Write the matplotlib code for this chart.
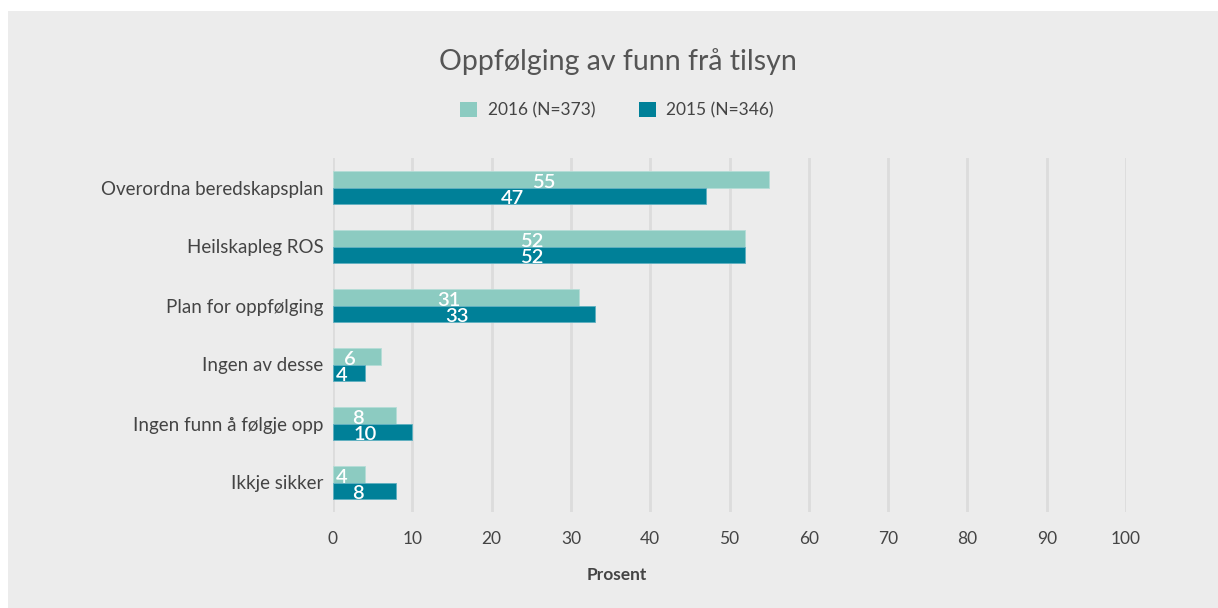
import numpy as np
import matplotlib.pyplot as plt
from matplotlib.patches import Rectangle, Patch

categories = ["Overordna beredskapsplan", "Heilskapleg ROS", "Plan for oppfølging",
              "Ingen av desse", "Ingen funn å følgje opp", "Ikkje sikker"]
values_2016 = [55, 52, 31, 6, 8, 4]
values_2015 = [47, 52, 33, 4, 10, 8]
series_names = ["2016 (N=373)", "2015 (N=346)"]
x_ticks = list(range(0, 101, 10))

light = "#8ccbc1"
dark = "#008098"
bg = "#ececec"
text_col = "#444444"

plt.rcParams['font.family'] = ['Lato', 'DejaVu Sans']

fig = plt.figure(figsize=(12.18, 6.08), dpi=100, facecolor="white")
fig.patches.append(Rectangle((8 / 1218, 0), 1, 1 - 11 / 608, transform=fig.transFigure,
                             facecolor=bg, edgecolor="none", zorder=-10))

ax = fig.add_axes([333 / 1218, 1 - 512 / 608, 793 / 1218, 354 / 608])
ax.set_facecolor(bg)
ax.patch.set_alpha(0)

y = np.arange(len(categories))
h = 0.28
b1 = ax.barh(y - h / 2, values_2016, height=h, color=light, edgecolor="#b5ddd6", linewidth=0.6, zorder=3)
b2 = ax.barh(y + h / 2, values_2015, height=h, color=dark, edgecolor="#5fb0c0", linewidth=0.6, zorder=3)

# verdiar midt i stolpane
for bars, vals in ((b1, values_2016), (b2, values_2015)):
    for bar, v in zip(bars, vals):
        cx = bar.get_x() + bar.get_width() / 2 - 0.9
        cy = bar.get_y() + bar.get_height() / 2 + 0.05
        ax.text(cx, cy, str(v), color="white", fontsize=14.5, fontweight="semibold",
                ha="center", va="center", zorder=4)

ax.set_xlim(0, 100)
ax.set_ylim(5.5, -0.5)
ax.set_xticks(x_ticks)
ax.set_xticklabels([str(t) for t in x_ticks], fontsize=12.5, color=text_col)
ax.tick_params(axis="both", length=0)
ax.tick_params(axis="x", pad=14)
ax.set_yticks(y)
ax.set_yticklabels(categories, fontsize=13.5, color=text_col)
ax.tick_params(axis="y", pad=7)
ax.grid(axis="x", color="#dcdcdc", linewidth=2, zorder=0)
for s in ax.spines.values():
    s.set_visible(False)

fig.text(617 / 1218, 1 - 575 / 608, "Prosent", fontsize=12.5, fontweight="bold",
         color=text_col, ha="center", va="center")
fig.text(618 / 1218, 1 - 62 / 608, "Oppfølging av funn frå tilsyn", fontsize=20.5,
         color="#555555", ha="center", va="center")

handles = [Patch(facecolor=light), Patch(facecolor=dark)]
fig.legend(handles, series_names, loc="center", bbox_to_anchor=(617 / 1218, 1 - 110 / 608),
           ncol=2, frameon=False, fontsize=12.5, labelcolor=text_col,
           handlelength=1.0, handleheight=1.0, handletextpad=0.6, columnspacing=2.5)

fig.savefig("out.png", dpi=100, facecolor="white")
